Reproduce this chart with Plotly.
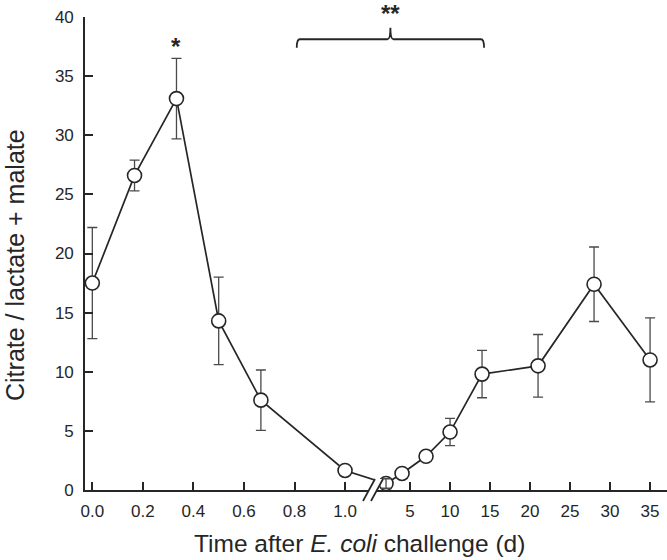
import plotly.graph_objects as go

# ---- data ----
days = [0.0, 0.167, 0.333, 0.5, 0.667, 1.0, 2, 4, 7, 10, 14, 21, 28, 35]
ratio = [17.5, 26.6, 33.1, 14.3, 7.6, 1.65, 0.55, 1.4, 2.85, 4.9, 9.8, 10.5, 17.4, 11.0]
sem = [4.7, 1.3, 3.4, 3.7, 2.55, 0.4, 0.4, 0.3, 0.3, 1.15, 2.0, 2.65, 3.15, 3.55]

left_ticks = [0.0, 0.2, 0.4, 0.6, 0.8, 1.0]
left_labels = ["0.0", "0.2", "0.4", "0.6", "0.8", "1.0"]
right_ticks = [5, 10, 15, 20, 25, 30, 35]
right_labels = ["5", "10", "15", "20", "25", "30", "35"]
y_ticks = [0, 5, 10, 15, 20, 25, 30, 35, 40]

# ---- broken x-axis mapping (first day linear, then compressed) ----
P5 = 1.2572      # axis position of day 5
R = 0.03166      # axis units per day on the right segment


def xpos(t):
    return t if t <= 1.0 else P5 + (t - 5) * R


xp = [xpos(t) for t in days]

INK = "#262626"
FONT = "Liberation Sans, Arial, Helvetica, sans-serif"

fig = go.Figure()
fig.add_trace(go.Scatter(
    x=xp, y=ratio, mode="lines+markers",
    line=dict(color=INK, width=1.7),
    marker=dict(symbol="circle", size=14, color="white",
                line=dict(color=INK, width=1.6)),
    error_y=dict(type="data", array=sem, color="#4a4a4a",
                 thickness=1.3, width=5),
    cliponaxis=False, showlegend=False, hoverinfo="skip",
))
# error bar drawn on top of the day-2 circle (as in the original)
i2 = days.index(2)
fig.add_trace(go.Scatter(
    x=[xp[i2]], y=[ratio[i2]], mode="markers",
    marker=dict(size=1, color="rgba(0,0,0,0)"),
    error_y=dict(type="data", array=[sem[i2]], color="#4a4a4a",
                 thickness=1.3, width=5),
    cliponaxis=False, showlegend=False, hoverinfo="skip",
))

X0 = -0.029
X1 = 2.274

# page pixel -> paper coordinates (plot area: x 85..667, y 17..490 on the page)


def px2paper_x(px):
    return (px - 85) / 582.0


def py2paper_y(py):
    return (490 - py) / 473.0


shapes = []
# axis break: white gap + two slashes
a = (px2paper_x(363), py2paper_y(501))
b = (px2paper_x(375), py2paper_y(479))
c = (px2paper_x(383), py2paper_y(479))
d = (px2paper_x(371), py2paper_y(501))
shapes.append(dict(type="path", xref="paper", yref="paper",
                   path=f"M{a[0]},{a[1]} L{b[0]},{b[1]} L{c[0]},{c[1]} L{d[0]},{d[1]} Z",
                   fillcolor="white", line=dict(width=0), layer="above"))
for p, q in [(a, b), (d, c)]:
    shapes.append(dict(type="line", xref="paper", yref="paper",
                       x0=p[0], y0=p[1], x1=q[0], y1=q[1],
                       line=dict(color=INK, width=1.7), layer="above"))

# significance bracket spanning 0.8 d .. 14 d
bx0 = 0.809
bx1 = xpos(14.25)
bm = (bx0 + bx1) / 2
yh, ye, yt = 38.12, 37.4, 39.1
dx = 0.012
path = (f"M{bx0},{ye} Q{bx0},{yh} {bx0 + dx},{yh} "
        f"L{bm - dx},{yh} Q{bm},{yh} {bm},{yt} "
        f"Q{bm},{yh} {bm + dx},{yh} "
        f"L{bx1 - dx},{yh} Q{bx1},{yh} {bx1},{ye}")
shapes.append(dict(type="path", xref="x", yref="y", path=path,
                   line=dict(color=INK, width=1.8)))

annotations = [
    dict(text="<b>*</b>", x=px2paper_x(176), y=py2paper_y(46),
         xref="paper", yref="paper",
         showarrow=False, font=dict(family=FONT, size=24, color=INK),
         xanchor="center", yanchor="middle"),
    dict(text="<b>**</b>", x=px2paper_x(390), y=py2paper_y(14),
         xref="paper", yref="paper",
         showarrow=False, font=dict(family=FONT, size=24, color=INK),
         xanchor="center", yanchor="middle"),
    dict(text="Time after <i>E. coli</i> challenge (d)",
         x=px2paper_x(359), y=py2paper_y(543), xref="paper", yref="paper",
         showarrow=False, font=dict(family=FONT, size=24.5, color=INK),
         xanchor="center", yanchor="middle"),
    dict(text="Citrate / lactate + malate",
         x=px2paper_x(15), y=py2paper_y(265), xref="paper", yref="paper",
         showarrow=False, textangle=-90,
         font=dict(family=FONT, size=25, color=INK),
         xanchor="center", yanchor="middle"),
]

fig.update_layout(
    width=667, height=560,
    margin=dict(l=85, r=0, t=17, b=70),
    paper_bgcolor="white", plot_bgcolor="white",
    font=dict(family=FONT, color=INK),
    hovermode=False,
    xaxis=dict(range=[X0, X1], showgrid=False, zeroline=False,
               showline=True, linecolor=INK, linewidth=1.6,
               ticks="inside", ticklen=8, tickwidth=1.6, tickcolor=INK,
               tickvals=[xpos(t) for t in left_ticks] + [xpos(t) for t in right_ticks],
               ticktext=left_labels + right_labels,
               tickfont=dict(size=17, color=INK), ticklabelstandoff=5,
               ticklabeloverflow="allow"),
    yaxis=dict(range=[0, 40], showgrid=False, zeroline=False,
               showline=True, linecolor=INK, linewidth=1.6,
               ticks="inside", ticklen=8, tickwidth=1.6, tickcolor=INK,
               tickvals=y_ticks,
               tickfont=dict(size=17, color=INK), ticklabelstandoff=6,
               ticklabeloverflow="allow"),
    shapes=shapes, annotations=annotations,
)

# remove the browser's default 8 px body margin so the figure fills the window
fig.write_html("out.html",
               config={"displayModeBar": False},
               post_script="document.body.style.margin='0';document.body.style.overflow='hidden';")
